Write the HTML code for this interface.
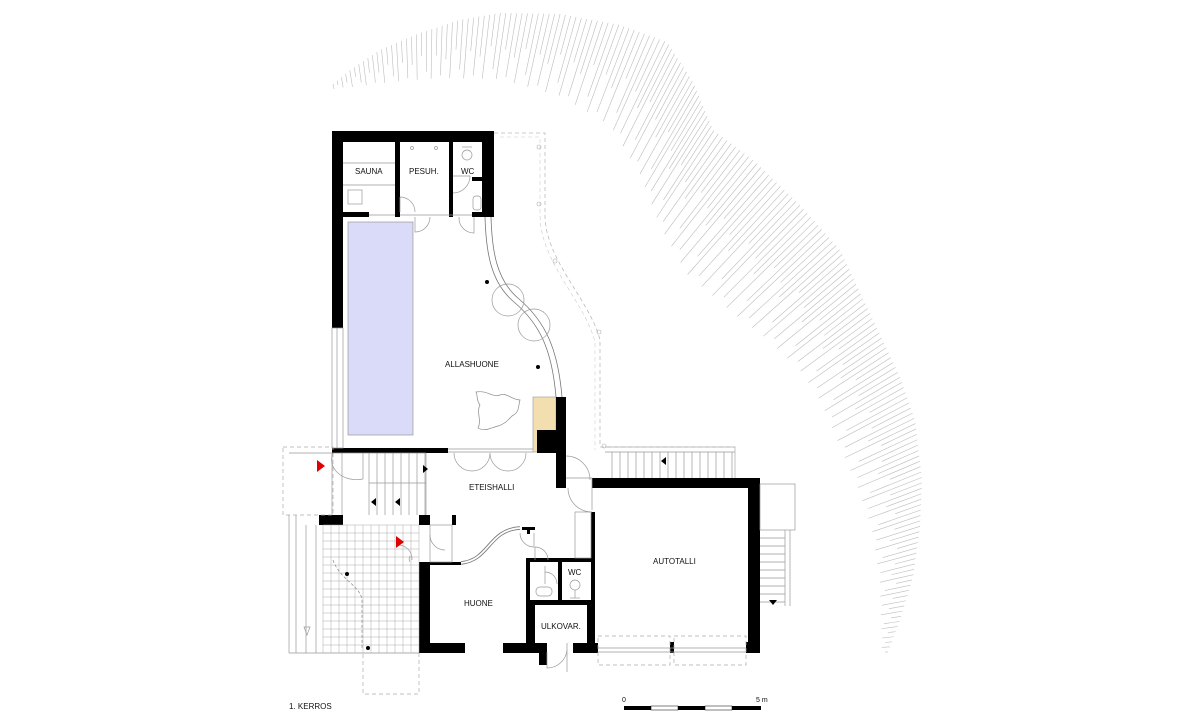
<!DOCTYPE html>
<html><head><meta charset="utf-8"><style>
html,body{margin:0;padding:0;background:#fff;}
svg{display:block;font-family:"Liberation Sans",sans-serif;}
text{font-size:8px;fill:#111;}
</style></head><body>
<svg id="s" width="1200" height="720" viewBox="0 0 1200 720" xmlns="http://www.w3.org/2000/svg">
<g id="hatch" stroke="#bdbdbd" stroke-width="0.6"></g>
<path d="M494 133 H545 V215 C545 260 590 300 600 340 V447 H735" fill="none" stroke="#bbb" stroke-width="0.8" stroke-dasharray="4 3"/>
<path d="M500 137 H540 V215 C540 262 585 302 595 342 V450" fill="none" stroke="#ccc" stroke-width="0.6" stroke-dasharray="4 3"/>
<circle cx="539" cy="147" r="2" fill="none" stroke="#aaa" stroke-width="0.6"/>
<circle cx="539" cy="204" r="2" fill="none" stroke="#aaa" stroke-width="0.6"/>
<circle cx="555" cy="261" r="2" fill="none" stroke="#aaa" stroke-width="0.6"/>
<circle cx="599" cy="332" r="2" fill="none" stroke="#aaa" stroke-width="0.6"/>
<circle cx="604" cy="446" r="2" fill="none" stroke="#aaa" stroke-width="0.6"/>

<rect x="348" y="222" width="65" height="213" fill="#d9dbf8" stroke="#999" stroke-width="0.7"/>
<rect x="533" y="397" width="23" height="55" fill="#f3deb0" stroke="#999" stroke-width="0.6"/>

<g fill="#000">
<rect x="332" y="131" width="162" height="11"/>
<rect x="332" y="131" width="11" height="197"/>
<rect x="482" y="131" width="12" height="86"/>
<rect x="395" y="142" width="5" height="71"/>
<rect x="449" y="142" width="4" height="75"/>
<rect x="343" y="212" width="26" height="5"/>
<rect x="395" y="212" width="5" height="5"/>
<rect x="472" y="212" width="22" height="5"/>
<rect x="472" y="177" width="10" height="4"/>
<rect x="332" y="448" width="116" height="5"/>
<rect x="556" y="397" width="10" height="91"/>
<rect x="537" y="430" width="29" height="23"/>
<rect x="319" y="515" width="24" height="10"/>
<rect x="419" y="515" width="11" height="10"/>
<rect x="452" y="515" width="4" height="10"/>
<rect x="419" y="562" width="11" height="91"/>
<rect x="430" y="562" width="31" height="3"/>
<rect x="419" y="643" width="46" height="10"/>
<rect x="503" y="643" width="44" height="10"/>
<rect x="526" y="558" width="4" height="85"/>
<rect x="530" y="558" width="62" height="4"/>
<rect x="558" y="562" width="4" height="40"/>
<rect x="530" y="600" width="62" height="5"/>
<rect x="530" y="605" width="5" height="38"/>
<rect x="587" y="605" width="5" height="38"/>
<rect x="539" y="643" width="8" height="22"/>
<rect x="573" y="643" width="25" height="10"/>
<rect x="522" y="527" width="13" height="3"/>
<rect x="527" y="527" width="3" height="7"/>
<rect x="592" y="478" width="168" height="10"/>
<rect x="748" y="478" width="12" height="175"/>
<rect x="591" y="512" width="4" height="131"/>
<rect x="746" y="642" width="14" height="11"/>
<rect x="670" y="642" width="4" height="11"/>
</g>

<g fill="none" stroke="#999" stroke-width="0.7">
<line x1="343" y1="163" x2="395" y2="163"/><line x1="343" y1="185" x2="395" y2="185"/>
<rect x="348" y="190" width="14" height="14"/>
<line x1="369" y1="215" x2="395" y2="215"/><line x1="400" y1="215" x2="472" y2="215"/>
<circle cx="412" cy="148" r="1.5"/><circle cx="436" cy="148" r="1.5"/>
<circle cx="467" cy="155" r="5"/><line x1="462" y1="147" x2="472" y2="147"/>
<rect x="473" y="196" width="8" height="14" rx="3"/>
<path d="M400 197 A15 15 0 0 1 415 212 M400 197 V212"/>
<path d="M415 217 V232 A15 15 0 0 0 430 217"/>
<path d="M453 176 H470 M470 176 A17 17 0 0 1 453 193"/>
<path d="M474 217 V233 A15 15 0 0 1 459 217"/>
<rect x="332" y="328" width="11" height="120"/>
<line x1="337" y1="328" x2="337" y2="448"/>
<path d="M485 217 C486 250 490 282 514 302 C540 324 552 350 556 397" stroke="#777" stroke-width="0.8"/>
<path d="M491 217 C492 250 496 280 519 299 C546 322 558 350 562 397" stroke="#777" stroke-width="0.8"/>
<circle cx="508" cy="300" r="16"/><circle cx="534" cy="325" r="16"/>
<path d="M476 392 C488 390 492 398 500 395 C506 392 512 400 520 400 C518 406 520 412 512 416 C508 420 505 424 498 426 C490 428 485 432 478 428 C482 420 476 412 480 405 C476 400 478 396 476 392 Z" stroke="#888"/>
<line x1="448" y1="449" x2="533" y2="449"/><line x1="448" y1="452" x2="533" y2="452"/>
<path d="M454 453 A18 18 0 0 0 490 453 M490 453 A18 18 0 0 0 526 453"/>
<rect x="283" y="447" width="50" height="68" stroke-dasharray="4 3" stroke="#aaa"/>
<line x1="289" y1="453" x2="426" y2="453"/>
<path d="M333 453 A25 20 0 0 0 363 479 V453"/>
<line x1="332" y1="453" x2="332" y2="515"/><line x1="342" y1="453" x2="342" y2="515"/>
<line x1="369" y1="483" x2="426" y2="483"/>
<g id="st1"></g>
<line x1="426" y1="453" x2="426" y2="515"/>
<line x1="289" y1="515" x2="289" y2="653"/><line x1="296" y1="515" x2="296" y2="653"/>
<line x1="306" y1="525" x2="306" y2="653"/><line x1="316" y1="525" x2="316" y2="653"/>
<line x1="289" y1="653" x2="419" y2="653"/>
<path d="M307 635 l-3 -8 h6 z"/>
<g id="tiles" stroke="#aaa" stroke-width="0.5"></g>
<path d="M333 560 C340 580 360 585 362 600 V650" stroke="#888" stroke-dasharray="3 2"/>
<rect x="363" y="653" width="56" height="41" stroke-dasharray="4 3" stroke="#aaa"/>
<path d="M398 545 A14 14 0 0 1 412 560 M410 556 A6 6 0 0 0 410 562"/>
<rect x="430" y="525" width="22" height="37"/>
<path d="M430 535 A15 15 0 0 0 445 550"/>
<path d="M461 563 C490 560 488 530 520 528" stroke="#777" stroke-width="3.5"/>
<path d="M461 563 C490 560 488 530 520 528" stroke="#fff" stroke-width="1.8"/>
<path d="M520 533 A14 14 0 0 0 534 547 V533"/>
<path d="M535 547 A13 13 0 0 1 548 560 M535 547 V560"/>
<path d="M545 572 A12 12 0 0 1 557 584 M545 566 V584"/>
<rect x="536" y="587" width="16" height="9" rx="4"/>
<circle cx="575" cy="585" r="5"/><line x1="575" y1="590" x2="575" y2="598"/><line x1="570" y1="598" x2="580" y2="598"/>
<path d="M566 456 A24 24 0 0 1 590 480 M566 478 H592 V510"/>
<path d="M568 488 A24 24 0 0 0 592 512"/>
<rect x="575" y="512" width="16" height="46"/>
<path d="M547 652 V668 A20 20 0 0 0 567 650"/>
<line x1="567" y1="643" x2="567" y2="672"/>
<rect x="598" y="636" width="72" height="29" stroke-dasharray="4 3" stroke="#aaa"/>
<rect x="674" y="636" width="72" height="29" stroke-dasharray="4 3" stroke="#aaa"/>
<line x1="598" y1="648" x2="746" y2="648"/><line x1="598" y1="652" x2="746" y2="652"/>
<path d="M605 447 H735 V478" stroke="#aaa"/>
<line x1="605" y1="452" x2="735" y2="452"/>
<g id="st2"></g>
<rect x="760" y="484" width="35" height="46"/>
<line x1="785" y1="530" x2="785" y2="606"/><line x1="790" y1="530" x2="790" y2="606"/>
<g id="st3"></g>
</g>

<g fill="#000">
<path d="M423 465 l5 4 -5 4 z"/><path d="M376 498 l-5 4 5 4 z"/><path d="M400 498 l-5 4 5 4 z"/>
<path d="M666 457 l-5 4 5 4 z"/><path d="M769 600 l4 5 4 -5 z"/>
<circle cx="487" cy="282" r="2"/><circle cx="538" cy="367" r="2"/>
<circle cx="347" cy="574" r="2"/><circle cx="368" cy="648" r="2"/>
</g>
<g fill="#e00000">
<path d="M317 460 l8 6 -8 6 z"/><path d="M396 536 l8 6 -8 6 z"/>
</g>

<text x="355" y="174">SAUNA</text>
<text x="409" y="174">PESUH.</text>
<text x="461" y="174">WC</text>
<text x="445" y="367">ALLASHUONE</text>
<text x="469" y="490">ETEISHALLI</text>
<text x="653" y="564">AUTOTALLI</text>
<text x="464" y="606">HUONE</text>
<text x="568" y="575">WC</text>
<text x="541" y="629">ULKOVAR.</text>
<text x="289" y="709">1. KERROS</text>
<text x="622" y="702" style="font-size:7px">0</text>
<text x="756" y="702" style="font-size:7px">5 m</text>
<g>
<rect x="624" y="706" width="27" height="4" fill="#000"/>
<rect x="651" y="706" width="27" height="4" fill="#fff" stroke="#000" stroke-width="0.5"/>
<rect x="678" y="706" width="27" height="4" fill="#000"/>
<rect x="705" y="706" width="27" height="4" fill="#fff" stroke="#000" stroke-width="0.5"/>
<rect x="732" y="706" width="29" height="4" fill="#000"/>
</g>
</svg>
<script>
var NS="http://www.w3.org/2000/svg";
function L(g,x1,y1,x2,y2){var l=document.createElementNS(NS,"line");l.setAttribute("x1",x1);l.setAttribute("y1",y1);l.setAttribute("x2",x2);l.setAttribute("y2",y2);g.appendChild(l);}
var st1=document.getElementById("st1");
for(var x=369;x<=426;x+=8){L(st1,x,453,x,515);}
var st2=document.getElementById("st2");
for(var x=612;x<=735;x+=8){L(st2,x,452,x,478);}
var st3=document.getElementById("st3");
for(var y=538;y<=606;y+=8){L(st3,760,y,785,y);}
var t=document.getElementById("tiles");
for(var x=323;x<=419;x+=8){L(t,x,525,x,653);}
for(var y=525;y<=653;y+=8){L(t,323,y,419,y);}
var outer=[[333,84],[350,70],[380,50],[420,33],[460,20],[500,13],[560,14],[620,25],[667,42],[693,82],[713,130],[753,160],[800,205],[840,250],[867,307],[900,377],[915,420],[922,480],[920,527],[913,577],[900,620],[888,652]];
var inner=[[334,89],[360,86],[400,81],[440,78],[500,79],[560,96],[610,125],[640,174],[660,226],[687,274],[733,313],[767,339],[800,370],[820,400],[843,453],[860,493],[873,533],[880,583],[882,652]];
function samp(p,n){var d=[0];for(var i=1;i<p.length;i++){d.push(d[i-1]+Math.hypot(p[i][0]-p[i-1][0],p[i][1]-p[i-1][1]));}var T=d[d.length-1],r=[];for(var k=0;k<n;k++){var s=T*k/(n-1),j=1;while(j<p.length-1&&d[j]<s)j++;var f=(s-d[j-1])/(d[j]-d[j-1]);r.push([p[j-1][0]+(p[j][0]-p[j-1][0])*f,p[j-1][1]+(p[j][1]-p[j-1][1])*f]);}return r;}
var N=195,o=samp(outer,N),q=samp(inner,N);
var h=document.getElementById("hatch");
var fs=[1,0.55,0.95,0.65,1,0.5,0.85];
for(var k=0;k<N;k++){var qi=q[k];var f=fs[k%fs.length];L(h,o[k][0],o[k][1],o[k][0]+(qi[0]-o[k][0])*f,o[k][1]+(qi[1]-o[k][1])*f);}
</script>
</body></html>
